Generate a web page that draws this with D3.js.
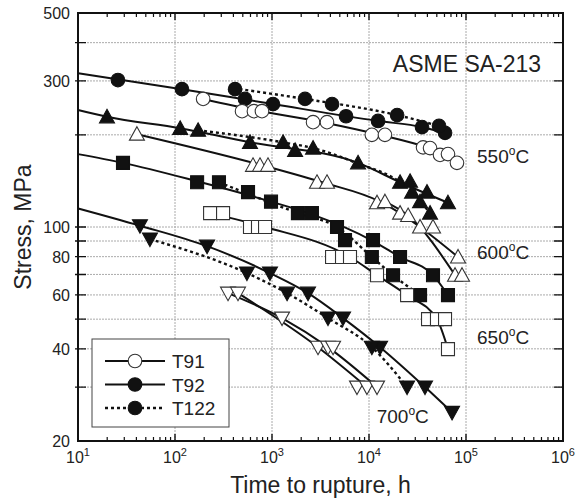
<!DOCTYPE html>
<html>
<head>
<meta charset="utf-8">
<script src="https://cdn.jsdelivr.net/npm/d3@7"></script>
<style>
  body { margin: 0; background: #fff; }
  text { font-family: "Liberation Sans", Arial, sans-serif; fill: #222; }
</style>
</head>
<body>
<div id="chart"></div>
<script>
// rupture data [time h, stress MPa]
var t91_550 = [[195,262],[491,239],[651,239],[788,239],[2650,220],[3690,220],[10700,200],[14600,200],[36100,182],[42600,181],[54000,172],[65200,173],[80700,162]];
var t92_550 = [[25.8,302],[118,282],[527,262],[1023,252],[5800,230],[12400,222],[35200,212],[60800,203]];
var t122_550 = [[416,282],[2190,262],[4160,252],[19500,232],[52700,214]];
var t91_600 = [[40.5,201],[637,159],[752,159],[909,159],[2910,140],[3690,140],[12100,120],[14600,121],[20900,111],[25300,109],[33600,100],[45700,100],[82800,79.8],[77100,69.6],[91000,69.6]];
var t92_600 = [[19.9,229],[113,210],[593,189],[1730,178],[7710,162],[20900,140],[39600,130],[65200,120]];
var t122_600 = [[173,207],[1300,189],[2650,181],[26500,141],[27800,130],[33600,121],[42600,111]];
var t91_650 = [[230,111],[313,111],[593,100],[717,100],[848,100],[4160,79.8],[5270,79.8],[6370,79.8],[12100,69.6],[24700,59.9],[40600,50],[50200,50],[60800,50],[65200,39.9]];
var t92_650 = [[29.1,162],[169,140],[566,130],[977,121],[2580,111],[11000,90.6],[20900,79.8],[45700,69.6],[65200,59.9]];
var t122_650 = [[284,140],[1850,111],[4680,100],[5660,90.6],[10700,79.8],[17700,69.6],[33600,59.9]];
var t91_700 = [[352,60.8],[446,60.8],[1270,50.4],[2980,40.5],[3780,40.5],[4260,40.5],[7520,30],[9530,30],[12100,30]];
var t92_700 = [[43.5,101],[214,86.6],[953,70.7],[2350,60.8],[5400,50.4],[13000,40.5],[37800,30],[71800,24.8]];
var t122_700 = [[55.2,91.3],[552,70.7],[1430,60.8],[3780,50.4],[10700,40.5],[24700,30]];

// fitted curves, nodes
var fit_t91_550 = [[195,262],[700,240],[3300,220],[13000,200],[42000,181],[65000,172],[82000,162]];
var fit_t92_550 = [[10,318],[118,282],[1023,252],[12400,222],[35200,212],[65000,201]];
var fit_t122_550 = [[400,284],[2190,262],[19500,232],[55000,213]];
var fit_t91_600 = [[40.5,201],[800,159],[3300,140],[13000,121],[20900,111],[33600,100],[82800,79.8]];
var fit_t91_600b = [[14600,121],[25300,109],[77100,69.6]];
var fit_t92_600 = [[10,241],[19.9,229],[113,210],[593,189],[7710,162],[20900,140],[65200,120]];
var fit_t122_600 = [[173,207],[1300,189],[2650,181],[7000,163],[27800,130],[42600,111]];
var fit_t91_650 = [[230,111],[848,100],[6370,79.8],[12100,69.6],[24700,59.9],[50200,50],[65200,39.9]];
var fit_t92_650 = [[10,173],[29.1,162],[169,141],[977,121],[2580,110],[11000,90],[20900,79.8],[45700,69.6],[65200,59.9]];
var fit_t122_650 = [[284,140],[1850,111],[4680,100],[10700,79.8],[17700,69.6],[33600,59.9]];
var fit_t91_700 = [[352,60.8],[1270,50.4],[3780,40.5],[12100,30]];
var fit_t91_700b = [[446,60.8],[2980,40.5],[9530,30]];
var fit_t92_700 = [[10,115],[43.5,101],[214,86.6],[953,70.7],[2350,60.8],[5400,50.4],[13000,40.5],[37800,30],[71800,24.8]];
var fit_t122_700 = [[55.2,91.3],[552,70.7],[1430,60.8],[3780,50.4],[10700,40.5],[24700,30]];

var xExponents = [1, 2, 3, 4, 5, 6];
var yLabels = [500, 300, 100, 80, 60, 40, 20];
var yGrid = [400, 300, 200, 100, 90, 80, 70, 60, 50, 40, 30];
var tempLabels = [
  { t: '550', at: [130000, 162] },
  { t: '600', at: [130000, 78.5] },
  { t: '650', at: [130000, 41.4] },
  { t: '700', at: [12000, 22.9] }
];
var grades = ['T91', 'T92', 'T122'];

var width = 581, height = 500;
var pL = 78, pR = 563, pT = 13, pB = 441;

var svg = d3.select('#chart').append('svg')
  .attr('width', width)
  .attr('height', height);

var x = d3.scaleLog().domain([10, 1e6]).range([pL, pR]);
var y = d3.scaleLog().domain([20, 500]).range([pB, pT]);

// grid
var grid = svg.append('g').attr('stroke', '#aaa').attr('stroke-width', 1).attr('stroke-dasharray', '2,1');
grid.selectAll('.vg').data([1e2, 1e3, 1e4, 1e5]).enter().append('line')
  .attr('x1', function (d) { return x(d); }).attr('x2', function (d) { return x(d); })
  .attr('y1', pT).attr('y2', pB);
grid.selectAll('.hg').data(yGrid).enter().append('line')
  .attr('x1', pL).attr('x2', pR)
  .attr('y1', function (d) { return y(d); }).attr('y2', function (d) { return y(d); });

var series = [
  { pts: t91_550, fits: [fit_t91_550], shape: 'circle', open: true, dash: false },
  { pts: t92_550, fits: [fit_t92_550], shape: 'circle', open: false, dash: false },
  { pts: t122_550, fits: [fit_t122_550], shape: 'circle', open: false, dash: true },
  { pts: t91_600, fits: [fit_t91_600, fit_t91_600b], shape: 'up', open: true, dash: false },
  { pts: t92_600, fits: [fit_t92_600], shape: 'up', open: false, dash: false },
  { pts: t122_600, fits: [fit_t122_600], shape: 'up', open: false, dash: true },
  { pts: t91_650, fits: [fit_t91_650], shape: 'square', open: true, dash: false },
  { pts: t92_650, fits: [fit_t92_650], shape: 'square', open: false, dash: false },
  { pts: t122_650, fits: [fit_t122_650], shape: 'square', open: false, dash: true },
  { pts: t91_700, fits: [fit_t91_700, fit_t91_700b], shape: 'down', open: true, dash: false },
  { pts: t92_700, fits: [fit_t92_700], shape: 'down', open: false, dash: false },
  { pts: t122_700, fits: [fit_t122_700], shape: 'down', open: false, dash: true }
];

var line = d3.line()
  .x(function (d) { return x(d[0]); })
  .y(function (d) { return y(d[1]); })
  .curve(d3.curveMonotoneX);

var shapes = {
  circle: d3.symbol().type(d3.symbolCircle).size(145)(),
  square: d3.symbol().type(d3.symbolSquare).size(169)(),
  up: 'M0,-7.5L7.5,6L-7.5,6Z',
  down: 'M0,7.5L7.5,-6L-7.5,-6Z'
};

var lines = svg.append('g');
series.forEach(function (s) {
  s.fits.forEach(function (f) {
    lines.append('path')
      .attr('d', line(f))
      .attr('fill', 'none')
      .attr('stroke', '#111')
      .attr('stroke-width', s.dash ? 2.4 : 2)
      .attr('stroke-dasharray', s.dash ? '3,3' : null);
  });
});

var marks = svg.append('g');
series.filter(function (s) { return !s.open; }).concat(series.filter(function (s) { return s.open; }))
  .forEach(function (s) {
    marks.selectAll(null).data(s.pts).enter().append('path')
      .attr('d', shapes[s.shape])
      .attr('transform', function (d) { return 'translate(' + x(d[0]) + ',' + y(d[1]) + ')'; })
      .attr('fill', s.open ? '#fff' : '#111')
      .attr('stroke', s.open ? '#333' : '#111')
      .attr('stroke-width', 1.1);
  });

// frame and ticks
var axes = svg.append('g').attr('stroke', '#111');
var minor = [];
for (var e = 1; e < 6; e++) {
  for (var m = 2; m < 10; m++) minor.push(m * Math.pow(10, e));
}
axes.selectAll('.mt').data(minor).enter().append('path')
  .attr('d', function (d) {
    var px = x(d);
    return 'M' + px + ',' + pB + 'v-4M' + px + ',' + pT + 'v4';
  }).attr('stroke-width', 1.2);
axes.selectAll('.Mt').data(xExponents).enter().append('path')
  .attr('d', function (d) {
    var px = x(Math.pow(10, d));
    return 'M' + px + ',' + pB + 'v-7M' + px + ',' + pT + 'v7';
  }).attr('stroke-width', 1.4);
axes.selectAll('.yt').data(yGrid).enter().append('path')
  .attr('d', function (d) {
    var py = y(d);
    return 'M' + (pL - 3) + ',' + py + 'h11M' + pR + ',' + py + 'h-9';
  }).attr('stroke-width', 1.4);
axes.append('rect')
  .attr('x', pL).attr('y', pT)
  .attr('width', pR - pL).attr('height', pB - pT)
  .attr('fill', 'none').attr('stroke-width', 2);

// tick labels
svg.selectAll('.xl').data(xExponents).enter().append('text')
  .attr('x', function (d) { return x(Math.pow(10, d)); })
  .attr('y', 463)
  .attr('text-anchor', 'middle')
  .style('font-size', '16px')
  .each(function (d) {
    var t = d3.select(this);
    t.append('tspan').text('10');
    t.append('tspan').attr('dy', -7).style('font-size', '11px').text(d);
  });
svg.selectAll('.yl').data(yLabels).enter().append('text')
  .attr('x', 70)
  .attr('y', function (d) { return y(d) + 6; })
  .attr('text-anchor', 'end')
  .style('font-size', '16px')
  .text(function (d) { return d; });

// axis titles
svg.append('text')
  .attr('x', (pL + pR) / 2).attr('y', 493)
  .attr('text-anchor', 'middle')
  .style('font-size', '23px')
  .text('Time to rupture, h');
svg.append('text')
  .attr('transform', 'translate(31,' + (pT + pB) / 2 + ') rotate(-90)')
  .attr('text-anchor', 'middle')
  .style('font-size', '23px')
  .text('Stress, MPa');

svg.append('text')
  .attr('x', 467).attr('y', 72)
  .attr('text-anchor', 'middle')
  .style('font-size', '23px')
  .text('ASME SA-213');

tempLabels.forEach(function (l) {
  var t = svg.append('text')
    .attr('x', x(l.at[0])).attr('y', y(l.at[1]))
    .style('font-size', '19px');
  t.append('tspan').text(l.t);
  t.append('tspan').attr('dy', -8).style('font-size', '12px').text('o');
  t.append('tspan').attr('dy', 8).text('C');
});

// legend
var lg = svg.append('g');
lg.append('rect')
  .attr('x', 92).attr('y', 339).attr('width', 137).attr('height', 88)
  .attr('fill', '#fff').attr('stroke', '#444').attr('stroke-width', 1);
grades.forEach(function (g, i) {
  var ly = 361 + i * 23.5;
  lg.append('line')
    .attr('x1', 105).attr('x2', 165).attr('y1', ly).attr('y2', ly)
    .attr('stroke', '#111').attr('stroke-width', i == 2 ? 2.4 : 2)
    .attr('stroke-dasharray', i == 2 ? '3,3' : null);
  lg.append('path')
    .attr('d', shapes.circle)
    .attr('transform', 'translate(135,' + ly + ')')
    .attr('fill', i == 0 ? '#fff' : '#111')
    .attr('stroke', i == 0 ? '#333' : '#111')
    .attr('stroke-width', 1.1);
  lg.append('text')
    .attr('x', 172).attr('y', ly + 7)
    .style('font-size', '19px')
    .text(g);
});
</script>
</body>
</html>
